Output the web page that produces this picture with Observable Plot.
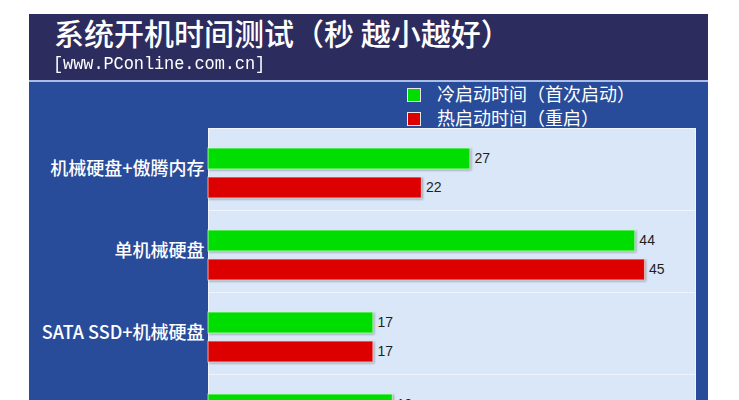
<!DOCTYPE html>
<html>
<head>
<meta charset="utf-8">
<script src="https://cdn.jsdelivr.net/npm/d3@7"></script>
<script src="https://cdn.jsdelivr.net/npm/@observablehq/plot@0.6"></script>
<style>
  html, body { margin: 0; padding: 0; background: #ffffff; width: 739px; height: 400px; overflow: hidden; }
  #panel { position: absolute; left: 29px; top: 14px; width: 679px; }
  #header { height: 66px; background: #2d2c5e; position: relative; }
  #title { position: absolute; left: 25px; top: -2px; color: #fff; font-family: "Noto Sans CJK SC", sans-serif; font-weight: 500; font-size: 30px; line-height: 40px; white-space: nowrap; }
  #sub { position: absolute; left: 24px; top: 38px; color: #fff; font-family: "Liberation Mono", "DejaVu Sans Mono", monospace; font-size: 17px; line-height: 22px; white-space: nowrap; letter-spacing: -0.1px; transform: scaleY(1.12); transform-origin: left top; }
  #line { height: 2px; background: #a9bde6; }
  #body { background: #284c9a; position: relative; }
  #legend { position: absolute; left: 378px; top: 2px; font-family: "Noto Sans CJK SC", sans-serif; font-size: 18px; color: #fff; }
  .li { position: relative; height: 23.5px; line-height: 23.5px; white-space: nowrap; }
  .sw { position: absolute; left: 0; top: 4px; width: 14px; height: 14px; border: 1px solid #e8e8e8; box-sizing: border-box; }
  .lt { position: absolute; left: 30px; top: -2px; }
  g[aria-label="bar"] rect { filter: drop-shadow(1.5px 1.5px 1px rgba(0,0,0,0.35)); }
</style>
</head>
<body>
<div id="panel">
  <div id="header">
    <div id="title">系统开机时间测试（秒 越小越好）</div>
    <div id="sub">[www.PConline.com.cn]</div>
  </div>
  <div id="line"></div>
  <div id="body">
    <div id="legend"></div>
    <div id="chart"></div>
  </div>
</div>
<script>
const categories = ["机械硬盘+傲腾内存", "单机械硬盘", "SATA SSD+机械硬盘", "SATA SSD"];
const series = ["冷启动时间（首次启动）", "热启动时间（重启）"];
const coldValues = [27, 44, 17, 19];
const hotValues = [22, 45, 17, null];
const seriesColors = ["#00dd00", "#dd0000"];

const rows = [];
categories.forEach((c, i) => {
  if (coldValues[i] != null) rows.push({category: c, series: series[0], value: coldValues[i]});
  if (hotValues[i] != null) rows.push({category: c, series: series[1], value: hotValues[i]});
});

const legend = document.getElementById("legend");
series.forEach((s, i) => {
  const li = document.createElement("div");
  li.className = "li";
  li.innerHTML = `<span class="sw" style="background:${seriesColors[i]}"></span><span class="lt">${s}</span>`;
  legend.appendChild(li);
});

const chart = Plot.plot({
  width: 679,
  height: 374,
  marginTop: 46,
  marginBottom: 0,
  marginLeft: 179,
  marginRight: 13,
  style: {background: "#284c9a", overflow: "visible"},
  facet: {data: rows, y: "category", marginLeft: 179, marginRight: 13},
  fy: {domain: categories, padding: 0, axis: null, label: null},
  y: {domain: series, axis: null, insetTop: 20, insetBottom: 12, paddingInner: 8 / 29, paddingOuter: 0},
  x: {domain: [0, 50.2], axis: null},
  color: {domain: series, range: seriesColors},
  marks: [
    Plot.frame({fill: "#dae7f8", stroke: "#eef5ff", strokeWidth: 1}),
    Plot.barX(rows, {x: "value", y: "series", fill: "series", stroke: "#ffffff", strokeOpacity: 0.55, strokeWidth: 1.2}),
    Plot.text(rows, {x: "value", y: "series", text: d => String(d.value), dx: 4, textAnchor: "start", fill: "#1e1e1e", fontSize: 14, fontFamily: "Liberation Sans, Arial, sans-serif"}),
    Plot.text(rows, {filter: d => d.series === series[0], text: "category", frameAnchor: "left", textAnchor: "end", dx: -4, fill: "#ffffff", fontSize: 18, fontWeight: 500, fontFamily: "Noto Sans CJK SC, sans-serif"})
  ]
});
document.getElementById("chart").appendChild(chart);
</script>
</body>
</html>
